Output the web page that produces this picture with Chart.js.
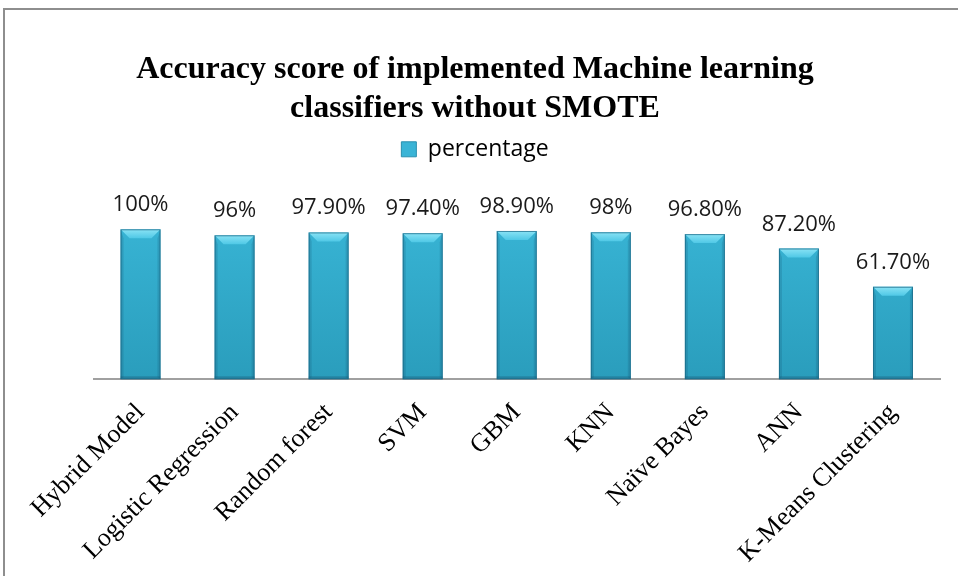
<!DOCTYPE html>
<html>
<head>
<meta charset="utf-8">
<script src="https://cdn.jsdelivr.net/npm/chart.js@4/dist/chart.umd.min.js"></script>
<style>
    body { margin: 0; background: #fff; }
    #wrap { position: relative; width: 958px; height: 583px; overflow: hidden; }
    #frame {
        position: absolute; left: 3px; top: 8px; width: 960px; height: 566px;
        border-left: 2px solid #8e8e8e; border-top: 2px solid #8e8e8e;
    }
    canvas { position: absolute; left: 0; top: 0; }
</style>
</head>
<body>
<div id="wrap">
    <div id="frame"></div>
    <canvas id="chart" width="958" height="583"></canvas>
</div>
<script>
const classifiers = ["Hybrid Model", "Logistic Regression", "Random forest", "SVM", "GBM", "KNN", "Naïve Bayes", "ANN", "K-Means Clustering"];
const percentage = [100, 96, 97.9, 97.4, 98.9, 98, 96.8, 87.2, 61.7];
const seriesName = "percentage";

const formatPct = (v) => Number.isInteger(v) ? v + "%" : v.toFixed(2) + "%";

const barFill = (context) => {
    const { chart } = context;
    const area = chart.chartArea;
    if (!area) {
        return "#36b0d3";
    }
    const g = chart.ctx.createLinearGradient(0, area.top, 0, area.bottom);
    g.addColorStop(0, "#3cbbdc");
    g.addColorStop(1, "#2a9dbc");
    return g;
};

// draws the value text above each bar
const valueLabels = {
    id: "valueLabels",
    afterDatasetsDraw(chart) {
        const ctx = chart.ctx;
        const meta = chart.getDatasetMeta(0);
        ctx.save();
        ctx.font = "22px 'Open Sans'";
        ctx.fillStyle = "#1a1a1a";
        ctx.textAlign = "center";
        ctx.textBaseline = "alphabetic";
        meta.data.forEach((bar, i) => {
            ctx.fillText(formatPct(percentage[i]), bar.x, bar.y - 18);
        });
        ctx.restore();
    }
};

// bevel look on the bars
const bevel = {
    id: "bevel",
    afterDatasetsDraw(chart) {
        const ctx = chart.ctx;
        const meta = chart.getDatasetMeta(0);
        ctx.save();
        meta.data.forEach((bar) => {
            const l = bar.x - bar.width / 2;
            const r = bar.x + bar.width / 2;
            const t = bar.y;
            const b = bar.base;
            const d = 9;
            let g = ctx.createLinearGradient(0, t, 0, t + d);
            g.addColorStop(0, "#8ae3f5");
            g.addColorStop(1, "#4fc8e6");
            ctx.fillStyle = g;
            ctx.beginPath();
            ctx.moveTo(l, t); ctx.lineTo(r, t); ctx.lineTo(r - d, t + d); ctx.lineTo(l + d, t + d);
            ctx.closePath(); ctx.fill();

            ctx.fillStyle = "rgba(20,80,110,0.2)";
            ctx.beginPath();
            ctx.moveTo(l, t); ctx.lineTo(l + 3, t + d); ctx.lineTo(l + 3, b - 2); ctx.lineTo(l, b);
            ctx.closePath(); ctx.fill();
            ctx.beginPath();
            ctx.moveTo(r, t); ctx.lineTo(r - 3, t + d); ctx.lineTo(r - 3, b - 2); ctx.lineTo(r, b);
            ctx.closePath(); ctx.fill();
            ctx.fillStyle = "rgba(20,70,100,0.3)";
            ctx.fillRect(l, b - 3, r - l, 3);

            ctx.strokeStyle = "rgba(25,100,130,0.7)";
            ctx.lineWidth = 1;
            ctx.strokeRect(l + 0.5, t + 0.5, r - l - 1, b - t - 1);
        });
        ctx.restore();
    }
};

new Chart(document.getElementById("chart").getContext("2d"), {
    type: "bar",
    data: {
        labels: classifiers,
        datasets: [
            {
                label: seriesName,
                data: percentage,
                backgroundColor: barFill,
                borderWidth: 0,
                barPercentage: 0.85,
                categoryPercentage: 0.5
            }
        ]
    },
    options: {
        responsive: false,
        animation: false,
        devicePixelRatio: 1,
        layout: {
            padding: { left: 10, right: 18, top: 0, bottom: 4 }
        },
        plugins: {
            title: {
                display: true,
                text: ["Accuracy score of implemented Machine learning", "classifiers without SMOTE"],
                color: "#000",
                font: { family: "'Liberation Serif'", size: 32, weight: "bold" },
                padding: { top: 51, bottom: 0 }
            },
            legend: {
                display: true,
                position: "top",
                labels: {
                    color: "#111",
                    font: { family: "'Open Sans'", size: 23 },
                    boxWidth: 15,
                    boxHeight: 15,
                    generateLabels: () => [{
                        text: seriesName,
                        fillStyle: "#3ab4d6",
                        strokeStyle: "#2a8fae",
                        lineWidth: 1
                    }]
                }
            },
            tooltip: { enabled: false }
        },
        scales: {
            x: {
                grid: { display: false, drawTicks: true, tickLength: 8 },
                border: { display: true, color: "#a0a0a0", width: 2 },
                ticks: {
                    color: "#000",
                    font: { family: "'Liberation Serif'", size: 26 },
                    minRotation: 45,
                    maxRotation: 45,
                    padding: 10
                }
            },
            y: {
                display: true,
                min: 0,
                max: 139,
                grid: { display: false },
                border: { display: false },
                ticks: { display: false },
                afterFit: (scale) => { scale.width = 83.5; }
            }
        }
    },
    plugins: [valueLabels, bevel]
});
</script>
</body>
</html>
